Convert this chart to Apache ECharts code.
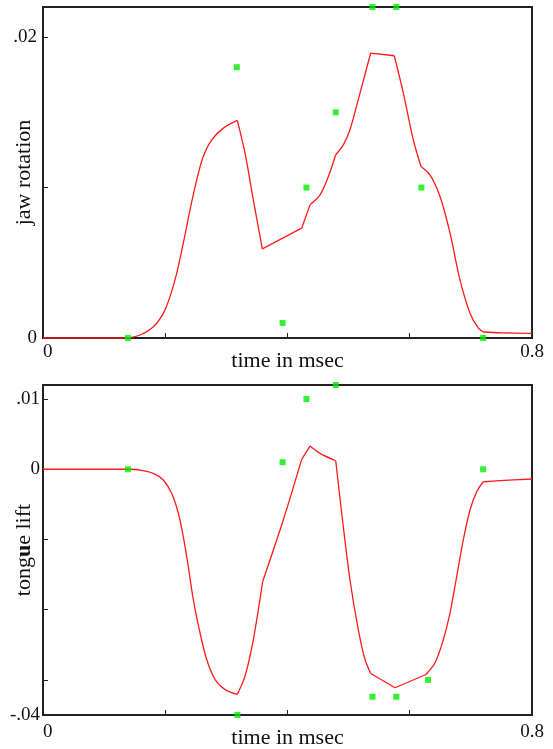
<!DOCTYPE html>
<html>
<head>
<meta charset="utf-8">
<script src="https://cdn.jsdelivr.net/npm/echarts@6/dist/echarts.min.js"></script>
<style>
html,body{margin:0;padding:0;background:#fff;}
#chart{width:553px;height:749px;}
</style>
</head>
<body>
<div id="chart"></div>
<script>
// ---- data ----
const jawTimes = [0, 0.139, 0.1587, 0.1805, 0.1968, 0.2078, 0.2187, 0.2295, 0.2405, 0.2515, 0.2622, 0.276, 0.295, 0.3179, 0.3305, 0.3441, 0.3588, 0.4232, 0.4368, 0.4532, 0.4668, 0.4789, 0.4913, 0.5022, 0.5186, 0.5361, 0.5747, 0.5895, 0.6058, 0.6184, 0.6331, 0.6495, 0.6659, 0.6822, 0.6986, 0.7122, 0.7203, 0.7477, 0.8];
const jawValues = [0, 0, 0.0002, 0.00075, 0.00164, 0.00275, 0.0043, 0.0063, 0.00852, 0.01051, 0.01206, 0.01317, 0.01395, 0.01446, 0.01229, 0.00918, 0.00592, 0.0073, 0.00885, 0.00951, 0.01073, 0.01218, 0.01284, 0.01384, 0.01628, 0.01894, 0.01876, 0.01628, 0.01317, 0.0114, 0.01084, 0.0094, 0.00697, 0.00386, 0.00164, 0.00065, 0.0004, 0.00035, 0.00031];
const jawCornerTimes = [0.139, 0.3179, 0.3588, 0.4232, 0.4368, 0.4789, 0.5361, 0.5747, 0.6184, 0.7203];
const jawTargetTimes = [0.139, 0.317, 0.392, 0.431, 0.479, 0.539, 0.578, 0.619, 0.720];
const jawTargetValues = [0, 0.018, 0.001, 0.01, 0.015, 0.022, 0.022, 0.01, 0];

const tongueTimes = [0, 0.139, 0.1587, 0.1805, 0.1968, 0.2105, 0.2214, 0.2295, 0.2377, 0.2459, 0.2569, 0.2678, 0.2814, 0.2977, 0.3179, 0.3305, 0.3441, 0.3594, 0.3931, 0.4232, 0.4368, 0.4532, 0.4789, 0.4887, 0.5022, 0.5158, 0.5268, 0.5361, 0.5759, 0.6266, 0.6413, 0.655, 0.6659, 0.6768, 0.6876, 0.6986, 0.7095, 0.7203, 0.7477, 0.8];
const tongueValues = [0, 0, -0.00011, -0.00058, -0.00153, -0.00342, -0.00626, -0.00959, -0.01385, -0.01858, -0.02331, -0.0271, -0.02994, -0.03136, -0.03207, -0.02947, -0.02426, -0.01598, -0.00722, 0.00141, 0.0033, 0.00226, 0.00121, -0.00626, -0.01574, -0.02284, -0.0271, -0.02909, -0.03112, -0.02923, -0.02757, -0.02426, -0.02047, -0.01527, -0.01006, -0.0058, -0.0032, -0.00178, -0.00163, -0.00139];
const tongueCornerTimes = [0.139, 0.3179, 0.3594, 0.4232, 0.4368, 0.4789, 0.5361, 0.5759, 0.6266, 0.7203];
const tongueTargetTimes = [0.139, 0.318, 0.392, 0.431, 0.479, 0.539, 0.578, 0.630, 0.720];
const tongueTargetValues = [0, -0.035, 0.001, 0.01, 0.012, -0.0324, -0.0324, -0.03, 0];

const xTickValues = [0.2, 0.4, 0.6];
const xLabelValues = [0, 0.8];
const xLabelTexts = ['0', '0.8'];
const jawTickValues = [0.01, 0.02];
const jawLabelValues = [0, 0.02];
const jawLabelTexts = ['0', '.02'];
const tongueTickValues = [-0.03, -0.02, -0.01, 0, 0.01];
const tongueLabelValues = [-0.035, 0, 0.01];
const tongueLabelTexts = ['-.04', '0', '.01'];

// ---- chart ----
const FONT = 'Liberation Serif';
const zip = (a, b) => a.map((v, i) => [v, b[i]]);
const lbl = (vals, texts) => (v) => {
  const i = vals.findIndex(x => Math.abs(x - v) < 1e-9);
  return i >= 0 ? texts[i] : '';
};
const AX = '#222';

// split a curve at its corner points so each piece is smoothed on its own
function segments(times, values, corners) {
  const pts = zip(times, values);
  const segs = [];
  let cur = [];
  pts.forEach((p, i) => {
    cur.push(p);
    const isCorner = corners.some(c => Math.abs(c - p[0]) < 1e-9);
    if (isCorner && i > 0 && i < pts.length - 1) {
      segs.push(cur);
      cur = [p];
    }
  });
  if (cur.length > 1) segs.push(cur);
  return segs;
}
function curveSeries(times, values, corners, idx) {
  return segments(times, values, corners).map(seg => ({
    type: 'line', xAxisIndex: idx, yAxisIndex: idx, data: seg, showSymbol: false, symbol: 'none',
    smooth: seg.length > 2 ? 0.3 : false, lineStyle: {color: '#ff1a1a', width: 1.3}, z: 3, silent: true
  }));
}

function xAxis(gridIndex, margin) {
  return {
    type: 'value', gridIndex, min: 0, max: 0.8,
    name: 'time in msec', nameLocation: 'middle', nameGap: 12, nameMoveOverlap: false,
    nameTextStyle: {fontFamily: FONT, fontSize: 22, color: '#111', verticalAlign: 'top'},
    axisLine: {show: true, onZero: false, lineStyle: {color: AX, width: 2}},
    axisTick: {show: true, inside: true, length: 5, customValues: xTickValues, lineStyle: {color: AX, width: 1}},
    axisLabel: {fontFamily: FONT, fontSize: 19, color: '#111', margin: margin, customValues: xLabelValues,
      formatter: lbl(xLabelValues, xLabelTexts), alignMinLabel: 'left'},
    splitLine: {show: false}
  };
}

const chart = echarts.init(document.getElementById('chart'));
chart.setOption({
  animation: false,
  backgroundColor: '#fff',
  grid: [
    {left: 43, top: 7, width: 489, height: 331, show: true, borderColor: AX, borderWidth: 2, containLabel: false, outerBoundsMode: 'none'},
    {left: 43, top: 385, width: 489, height: 330, show: true, borderColor: AX, borderWidth: 2, containLabel: false, outerBoundsMode: 'none'}
  ],
  xAxis: [xAxis(0, 5), xAxis(1, 8)],
  yAxis: [
    {
      type: 'value', gridIndex: 0, min: 0, max: 0.022,
      name: 'jaw rotation', nameLocation: 'middle', nameGap: 8, nameRotate: 90, nameMoveOverlap: false,
      nameTextStyle: {fontFamily: FONT, fontSize: 22, color: '#111'},
      axisLine: {show: true, onZero: false, lineStyle: {color: AX, width: 2}},
      axisTick: {show: true, inside: true, length: 5, customValues: jawTickValues, lineStyle: {color: AX, width: 1}},
      axisLabel: {fontFamily: FONT, fontSize: 19, color: '#111', margin: 6, customValues: jawLabelValues,
        formatter: lbl(jawLabelValues, jawLabelTexts)},
      splitLine: {show: false}
    },
    {
      type: 'value', gridIndex: 1, min: -0.035, max: 0.012,
      name: '{a|tong}{b|u}{a|e lift}', nameLocation: 'middle', nameGap: 8, nameRotate: 90, nameMoveOverlap: false,
      nameTextStyle: {fontFamily: FONT, fontSize: 22, color: '#111',
        rich: {a: {fontFamily: FONT, fontSize: 22, color: '#111'}, b: {fontFamily: FONT, fontSize: 22, color: '#111', fontWeight: 'bold'}}},
      axisLine: {show: true, onZero: false, lineStyle: {color: AX, width: 2}},
      axisTick: {show: true, inside: true, length: 5, customValues: tongueTickValues, lineStyle: {color: AX, width: 1}},
      axisLabel: {fontFamily: FONT, fontSize: 19, color: '#111', margin: 3, customValues: tongueLabelValues,
        formatter: lbl(tongueLabelValues, tongueLabelTexts)},
      splitLine: {show: false}
    }
  ],
  series: [
    ...curveSeries(jawTimes, jawValues, jawCornerTimes, 0),
    {type: 'scatter', xAxisIndex: 0, yAxisIndex: 0, data: zip(jawTargetTimes, jawTargetValues), symbol: 'rect', symbolSize: 6,
      itemStyle: {color: '#00ee00'}, clip: false, z: 4},
    ...curveSeries(tongueTimes, tongueValues, tongueCornerTimes, 1),
    {type: 'scatter', xAxisIndex: 1, yAxisIndex: 1, data: zip(tongueTargetTimes, tongueTargetValues), symbol: 'rect', symbolSize: 6,
      itemStyle: {color: '#00ee00'}, clip: false, z: 4}
  ]
});
</script>
</body>
</html>
